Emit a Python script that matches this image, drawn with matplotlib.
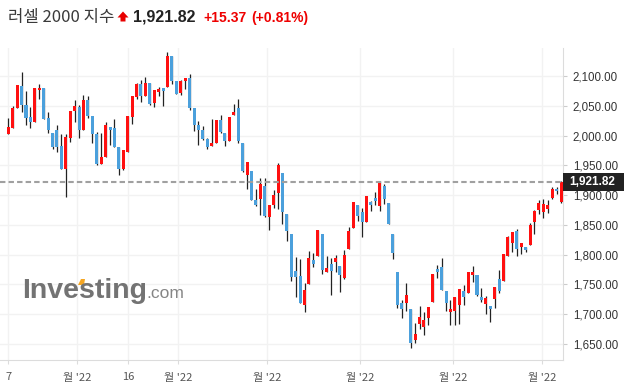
import matplotlib.pyplot as plt
import numpy as np
from matplotlib.patches import Rectangle, Polygon

# Russell 2000 daily candles
opens = [2003, 2013, 2047, 2083, 2052, 2031, 2023, 2076, 2080, 2029,
         2004, 2009, 1982, 1943, 1996, 2041, 2048, 2010, 2060, 2033,
         2003, 1953, 1964, 2014, 2012, 1981, 1943, 1972, 2031, 2065,
         2087, 2067, 2089, 2055, 2073, 2080, 2081, 2134, 2092, 2072,
         2092, 2097, 2046, 2018, 2009, 1994, 1983, 1988, 2026, 2004,
         1991, 2034, 2047, 1987, 1934, 1940, 1891, 1893, 1915, 1864,
         1884, 1904, 1937, 1868, 1835, 1772, 1764, 1715, 1750, 1791,
         1797, 1835, 1770, 1784, 1787, 1781, 1761, 1810, 1845, 1883,
         1872, 1855, 1888, 1895, 1881, 1915, 1886, 1834, 1770, 1718,
         1719, 1709, 1657, 1683, 1679, 1694, 1721, 1775, 1779, 1739,
         1704, 1706, 1716, 1739, 1736, 1766, 1766, 1729, 1717, 1714,
         1725, 1759, 1755, 1798, 1820, 1840, 1812, 1813, 1816, 1855,
         1875, 1871, 1876, 1895, 1910, 1888]
highs = [2029, 2050, 2085, 2106, 2074, 2048, 2080, 2086, 2080, 2039,
         2005, 2017, 2003, 2002, 2041, 2059, 2051, 2068, 2067, 2033,
         2006, 2005, 2022, 2014, 2027, 1981, 1976, 2033, 2066, 2089,
         2094, 2098, 2089, 2076, 2082, 2080, 2140, 2134, 2092, 2094,
         2097, 2104, 2046, 2024, 2016, 1996, 2027, 2026, 2034, 2004,
         2031, 2053, 2061, 1987, 1956, 1940, 1910, 1928, 1928, 1883,
         1909, 1954, 1937, 1868, 1835, 1796, 1792, 1753, 1806, 1802,
         1841, 1835, 1798, 1794, 1799, 1781, 1807, 1847, 1888, 1883,
         1878, 1898, 1890, 1905, 1922, 1918, 1886, 1834, 1770, 1724,
         1752, 1709, 1685, 1713, 1703, 1712, 1768, 1782, 1794, 1739,
         1724, 1729, 1742, 1749, 1770, 1781, 1766, 1744, 1731, 1714,
         1746, 1774, 1801, 1831, 1838, 1843, 1819, 1813, 1853, 1875,
         1891, 1893, 1892, 1913, 1913, 1924]
lows = [2002, 2012, 2046, 2040, 2017, 2012, 2022, 2061, 2027, 2005,
        1978, 1972, 1943, 1896, 1989, 2023, 1996, 2010, 2029, 1987,
        1950, 1953, 1964, 1984, 1980, 1934, 1942, 1972, 2020, 2061,
        2056, 2067, 2051, 2048, 2067, 2050, 2081, 2086, 2070, 2068,
        2078, 2043, 2008, 1984, 1992, 1978, 1983, 1987, 2004, 1983,
        1991, 2034, 1988, 1939, 1910, 1891, 1882, 1866, 1863, 1841,
        1878, 1876, 1851, 1823, 1755, 1728, 1718, 1703, 1750, 1780,
        1797, 1767, 1770, 1732, 1770, 1737, 1759, 1810, 1845, 1857,
        1830, 1855, 1873, 1883, 1873, 1885, 1852, 1793, 1710, 1693,
        1705, 1643, 1652, 1675, 1665, 1681, 1721, 1760, 1740, 1705,
        1681, 1681, 1684, 1715, 1736, 1754, 1731, 1720, 1701, 1687,
        1710, 1735, 1755, 1798, 1805, 1798, 1801, 1804, 1816, 1834,
        1868, 1861, 1870, 1893, 1902, 1886]
closes = [2014, 2047, 2085, 2052, 2030, 2022, 2079, 2080, 2028, 2010,
          1981, 1981, 1944, 1998, 2041, 2050, 2010, 2060, 2033, 2002,
          1952, 1964, 2018, 2010, 1980, 1943, 1976, 2032, 2066, 2087,
          2067, 2089, 2053, 2076, 2078, 2075, 2134, 2092, 2070, 2092,
          2097, 2046, 2018, 2009, 1994, 1981, 1987, 2026, 2006, 1991,
          2031, 2040, 1990, 1941, 1956, 1891, 1884, 1918, 1865, 1883,
          1900, 1951, 1872, 1840, 1763, 1763, 1719, 1741, 1794, 1785,
          1841, 1774, 1778, 1773, 1794, 1765, 1799, 1839, 1888, 1865,
          1855, 1898, 1884, 1890, 1920, 1893, 1852, 1802, 1716, 1709,
          1732, 1651, 1667, 1695, 1691, 1712, 1768, 1770, 1740, 1719,
          1708, 1729, 1742, 1728, 1770, 1771, 1732, 1724, 1727, 1708,
          1746, 1739, 1801, 1830, 1838, 1809, 1819, 1807, 1850, 1873,
          1887, 1885, 1884, 1910, 1906.45, 1921.82]

last_price = 1921.82
change = 15.37
change_pct = 0.81

xtick_pos = [0, 15.5, 27.1, 38.4, 58.5, 79.6, 100.6, 120.7]
xtick_labels = ['7', "월 '22", '16', "월 '22", "월 '22", "월 '22", "월 '22", "월 '22"]
yticks = [1650, 1700, 1750, 1800, 1850, 1900, 1950, 2000, 2050, 2100]

UP = '#ff1010'
DOWN = '#4ba0dc'

o = np.array(opens, dtype=float)
h = np.array(highs, dtype=float)
l = np.array(lows, dtype=float)
c = np.array(closes, dtype=float)
x = np.arange(len(o))
up = c >= o
colors = np.where(up, UP, DOWN)

W, H = 626, 388


def px(xp, yp):
    # pixel position (from top-left) -> figure fraction
    return (xp / W, 1 - yp / H)


fig = plt.figure(figsize=(W / 100, H / 100), dpi=100)
ax = fig.add_axes([0, 28 / H, 563 / W, 312 / H])
ax.set_xlim(-1.88, 125.45)
ax.set_ylim(1623, 2147)

ax.vlines(x, l, h, color='#222222', lw=0.9, zorder=2)
body = np.maximum(np.abs(c - o), 1.2)
ax.bar(x, body, bottom=np.minimum(o, c), width=0.68, color=colors,
       linewidth=0, zorder=3)

# last price line + label
ax.axhline(last_price, color='#a0a0a0', lw=1.5, dashes=(2.6, 1.5), zorder=4)
ytr = ax.get_yaxis_transform()
ax.add_patch(Rectangle((1.0, last_price - 15), 61 / 563, 30, transform=ytr,
                       facecolor='#222222', edgecolor='none', clip_on=False, zorder=5))
ax.text(1 + 6 / 563, last_price, f'{last_price:,.2f}', transform=ytr,
        ha='left', va='center', color='white', fontsize=8.5, fontweight='bold',
        family='Liberation Sans', zorder=6, clip_on=False)

# axes styling
for s in ['top', 'left']:
    ax.spines[s].set_visible(False)
for s in ['right', 'bottom']:
    ax.spines[s].set_color('#dcdcdc')
ax.yaxis.tick_right()
ax.set_yticks(yticks)
ax.set_yticklabels([f'{v:,.2f}' for v in yticks], family='Liberation Sans')
ax.tick_params(axis='y', length=3, color='#cccccc', pad=4, labelsize=8.3,
               labelcolor='#333333')
ax.set_xticks(xtick_pos)
ax.set_xticklabels(xtick_labels, family=['Noto Sans CJK KR', 'DejaVu Sans'])
ax.tick_params(axis='x', length=3, color='#dcdcdc', pad=6, labelsize=8,
               labelcolor='#555555')
ax.grid(color='#f2f2f2', lw=1)
ax.set_axisbelow(True)

# watermark
fig.text(*px(22, 298), 'Investing', fontsize=20.5, fontweight='bold',
         color='#737373', family='Liberation Sans', va='baseline')
fig.text(*px(146, 298), '.com', fontsize=12.5, color='#858585',
         family='Liberation Sans', va='baseline')
fig.patches.append(Polygon([px(78, 285), px(81, 279), px(85, 279), px(84, 285)],
                           closed=True, transform=fig.transFigure,
                           facecolor='#f5a623', edgecolor='none'))

# header
base = 22
fig.text(*px(8, base), '러셀 2000 지수', fontsize=12, color='#3a3a3a',
         family=['Noto Sans CJK KR', 'DejaVu Sans'], va='baseline')
fig.patches.append(Polygon([px(117.5, 17.5), px(123, 11.5), px(128.5, 17.5),
                            px(125.5, 17.5), px(125.5, 21.5), px(120.5, 21.5),
                            px(120.5, 17.5)],
                           closed=True, transform=fig.transFigure,
                           facecolor='#e80000', edgecolor='none'))
fig.text(*px(133, base), f'{last_price:,.2f}', fontsize=11.5, fontweight='bold',
         color='#222222', family='Liberation Sans', va='baseline')
fig.text(*px(203, base), f'+{change:.2f}', fontsize=10, fontweight='bold',
         color='#ee0000', family='Liberation Sans', va='baseline')
fig.text(*px(251, base), f'(+{change_pct:.2f}%)', fontsize=10, fontweight='bold',
         color='#ee0000', family='Liberation Sans', va='baseline')

fig.savefig('out.png', dpi=100)
